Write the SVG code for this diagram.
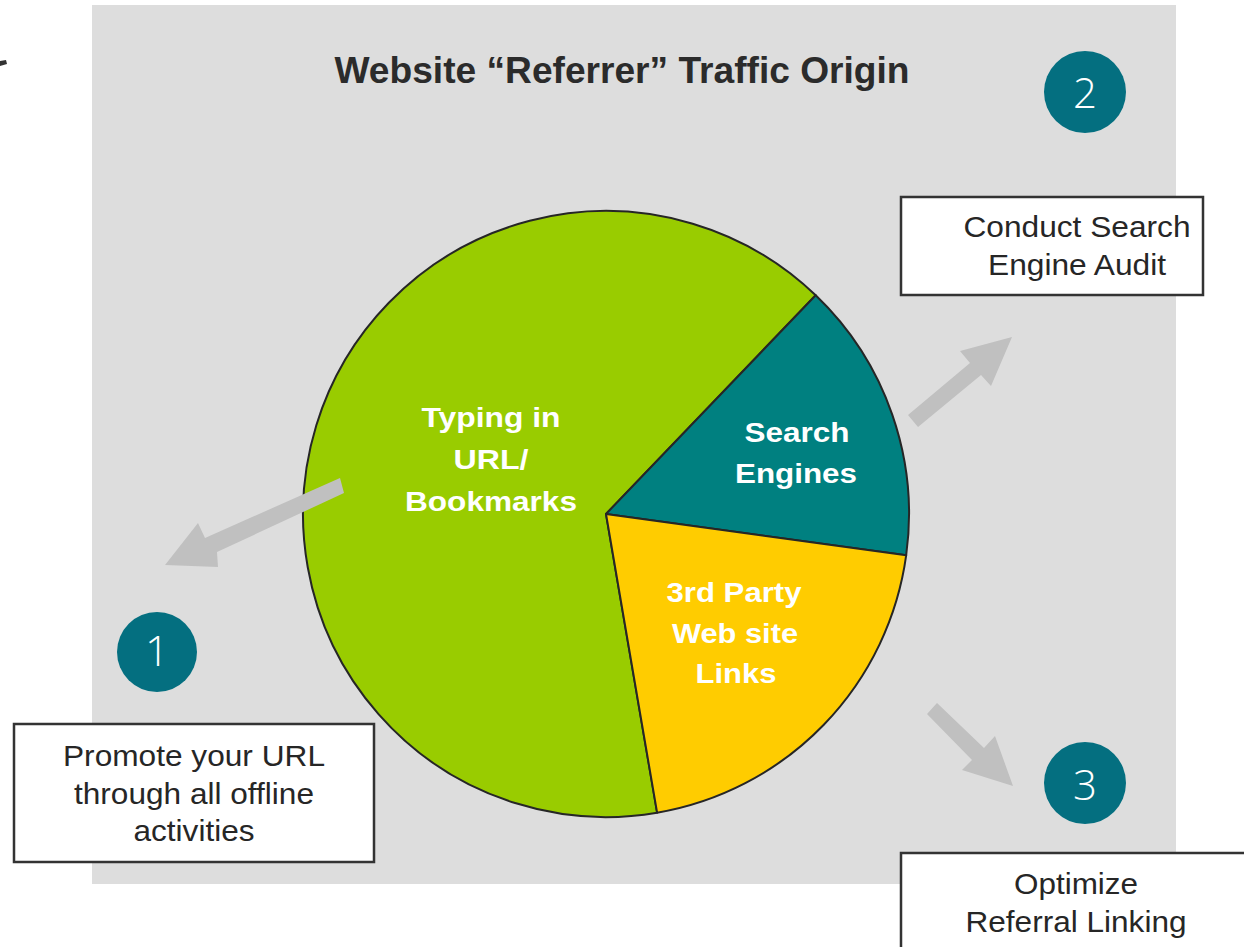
<svg xmlns="http://www.w3.org/2000/svg" width="1244" height="947" viewBox="0 0 1244 947">
<defs>
<style>
.bg{fill:#dddddd}
.slice{stroke:#262626;stroke-width:2;stroke-linejoin:round}
.arrow{fill:#c0c0c0}
.box{fill:#ffffff;stroke:#333333;stroke-width:2.5}
.num{fill:#046f80}
.numt{font-family:"Open Sans","Liberation Sans",sans-serif;font-weight:300;font-size:42px;fill:#ffffff;text-anchor:middle}
.bt{font-family:"Liberation Sans",Arial,sans-serif;font-size:29px;fill:#262626;text-anchor:middle}
.pl{font-family:"Liberation Sans",Arial,sans-serif;font-weight:bold;font-size:28.5px;fill:#ffffff;text-anchor:middle}
.title{font-family:"Liberation Sans",Arial,sans-serif;font-weight:bold;font-size:37px;fill:#2b2b2b;text-anchor:middle}
</style>
</defs>
<rect width="1244" height="947" fill="#ffffff"/>
<path d="M0,61 L6,60 L7,64 L0,66 Z" fill="#333333"/>
<rect class="bg" x="92" y="5" width="1084" height="879"/>
<text class="title" x="622" y="83" textLength="575" lengthAdjust="spacingAndGlyphs">Website “Referrer” Traffic Origin</text>

<g id="pie">
<path id="slice-bookmarks" class="slice" fill="#99cc00" d="M606,514 L657.1,812.7 A303,303 0 1 1 815.7,295.3 Z"/>
<path id="slice-search" class="slice" fill="#008080" d="M606,514 L815.7,295.3 A303,303 0 0 1 906.2,555.2 Z"/>
<path id="slice-links" class="slice" fill="#ffcc00" d="M606,514 L906.2,555.2 A303,303 0 0 1 657.1,812.7 Z"/>
<text class="pl" x="491" y="427" textLength="139" lengthAdjust="spacingAndGlyphs">Typing in</text>
<text class="pl" x="491" y="469" textLength="75" lengthAdjust="spacingAndGlyphs">URL/</text>
<text class="pl" x="491" y="511" textLength="172" lengthAdjust="spacingAndGlyphs">Bookmarks</text>
<text class="pl" x="797" y="442" textLength="105" lengthAdjust="spacingAndGlyphs">Search</text>
<text class="pl" x="796" y="483" textLength="122" lengthAdjust="spacingAndGlyphs">Engines</text>
<text class="pl" x="734" y="602" textLength="135" lengthAdjust="spacingAndGlyphs">3rd Party</text>
<text class="pl" x="735" y="643" textLength="126" lengthAdjust="spacingAndGlyphs">Web site</text>
<text class="pl" x="736" y="683" textLength="81" lengthAdjust="spacingAndGlyphs">Links</text>
</g>

<g id="connectors">
<polygon class="arrow" points="340,478 205,538 198,523 165,565 218,567 217,552 344,493"/>
<polygon class="arrow" points="908,415 970,363 960,351 1012,337 991,386 981,375 918,427"/>
<polygon class="arrow" points="937,703 984,748 995,736 1013,786 962,770 972,760 927,714"/>
</g>

<g id="step1">
<circle class="num" cx="157" cy="652" r="40"/>
<text class="numt" x="157" y="666">1</text>
</g>
<g id="step2">
<circle class="num" cx="1085" cy="92" r="41"/>
<text class="numt" x="1085" y="108">2</text>
</g>
<g id="step3">
<circle class="num" cx="1085" cy="783" r="41"/>
<text class="numt" x="1085" y="800">3</text>
</g>

<g id="box-promote">
<rect class="box" x="14" y="724" width="360" height="138"/>
<text class="bt" x="194" y="766" textLength="262" lengthAdjust="spacingAndGlyphs">Promote your URL</text>
<text class="bt" x="194" y="804" textLength="240" lengthAdjust="spacingAndGlyphs">through all offline</text>
<text class="bt" x="194" y="841" textLength="121" lengthAdjust="spacingAndGlyphs">activities</text>
</g>
<g id="box-audit">
<rect class="box" x="901" y="197" width="302" height="98"/>
<text class="bt" x="1077" y="237" textLength="227" lengthAdjust="spacingAndGlyphs">Conduct Search</text>
<text class="bt" x="1077" y="275" textLength="178" lengthAdjust="spacingAndGlyphs">Engine Audit</text>
</g>
<g id="box-referral">
<rect class="box" x="901" y="853" width="360" height="110"/>
<text class="bt" x="1076" y="894" textLength="124" lengthAdjust="spacingAndGlyphs">Optimize</text>
<text class="bt" x="1076" y="932" textLength="221" lengthAdjust="spacingAndGlyphs">Referral Linking</text>
</g>
</svg>
